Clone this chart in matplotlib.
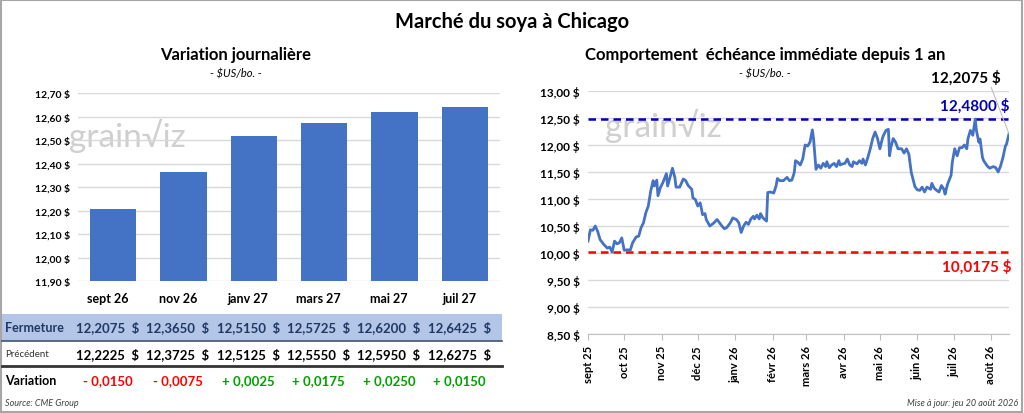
import matplotlib
matplotlib.use("Agg")
from matplotlib import pyplot as plt
from matplotlib.patches import Rectangle
import pandas as pd
import numpy as np

plt.rcParams['font.family'] = ['Lato', 'DejaVu Sans']

# --- données : variation journalière ---
echeances = ["sept 26", "nov 26", "janv 27", "mars 27", "mai 27", "juil 27"]
fermeture = [12.2075, 12.3650, 12.5150, 12.5725, 12.6200, 12.6425]
precedent = [12.2225, 12.3725, 12.5125, 12.5550, 12.5950, 12.6275]

# --- données : échéance immédiate depuis 1 an (jours depuis le 1er sept 2025) ---
jours = [0, 2, 4, 6, 8, 10, 13, 16, 18, 20, 22, 24, 26, 28, 30, 33, 35, 37, 40, 42,
         44, 46, 48, 50, 52, 54, 55, 57, 58, 60, 62, 65, 66, 68, 70, 72, 73, 76, 79, 81,
         83, 86, 87, 89, 91, 93, 95, 97, 98, 101, 104, 107, 109, 111, 113, 115, 118, 120, 123, 125,
         127, 129, 131, 133, 135, 137, 138, 140, 142, 143, 145, 148, 149, 151, 154, 156, 157, 159, 162, 165,
         167, 169, 171, 172, 174, 176, 178, 180, 182, 184, 185, 186, 187, 189, 191, 193, 195, 197, 198, 200,
         202, 204, 206, 208, 209, 211, 213, 215, 217, 219, 220, 223, 225, 227, 228, 230, 232, 234, 236, 238,
         240, 242, 244, 245, 247, 249, 250, 251, 253, 255, 257, 260, 262, 264, 266, 268, 271, 273, 275, 277,
         279, 281, 284, 285, 287, 289, 291, 293, 295, 296, 298, 301, 302, 304, 306, 308, 310, 312, 314, 315,
         317, 319, 321, 322, 324, 325, 327, 328, 331, 333, 336, 338, 340, 342, 344, 346, 347, 349]
prix = [10.22, 10.43, 10.42, 10.50, 10.40, 10.25, 10.16, 10.09, 10.11, 10.0175, 10.22, 10.17, 10.19, 10.28, 10.05, 10.06, 10.05, 10.19, 10.30, 10.31,
        10.47, 10.56, 10.75, 10.87, 11.15, 11.34, 11.24, 11.35, 11.06, 11.21, 11.30, 11.47, 11.24, 11.40, 11.57, 11.40, 11.22, 11.22, 11.37, 11.34,
        11.25, 11.18, 11.02, 10.99, 10.87, 10.93, 10.71, 10.73, 10.62, 10.50, 10.55, 10.62, 10.56, 10.50, 10.45, 10.47, 10.56, 10.65, 10.62, 10.56,
        10.38, 10.50, 10.57, 10.53, 10.63, 10.68, 10.63, 10.70, 10.63, 10.73, 10.65, 10.59, 11.12, 11.13, 11.11, 11.25, 11.38, 11.34, 11.34, 11.40,
        11.34, 11.35, 11.49, 11.71, 11.68, 11.63, 11.74, 12.00, 11.98, 12.05, 12.16, 12.28, 12.11, 11.55, 11.63, 11.57, 11.66, 11.60, 11.69, 11.58,
        11.63, 11.66, 11.60, 11.71, 11.63, 11.65, 11.66, 11.74, 11.63, 11.60, 11.69, 11.65, 11.71, 11.66, 11.74, 11.63, 11.77, 11.93, 12.12, 12.24,
        12.12, 11.93, 12.12, 12.18, 12.27, 12.29, 11.80, 11.95, 12.12, 12.05, 11.93, 11.93, 11.85, 11.93, 11.83, 11.49, 11.23, 11.17, 11.16, 11.22,
        11.13, 11.22, 11.18, 11.29, 11.20, 11.16, 11.13, 11.25, 11.18, 11.09, 11.27, 11.44, 11.68, 11.93, 11.80, 11.95, 11.95, 12.00, 11.93, 12.12,
        12.27, 12.18, 12.48, 12.27, 12.05, 12.11, 11.77, 11.71, 11.61, 11.57, 11.60, 11.58, 11.50, 11.61, 11.77, 11.98, 12.02, 12.2075]
haut_1an = 12.48
bas_1an = 10.0175
mois_ticks = ["sept 25", "oct 25", "nov 25", "déc 25", "janv 26", "févr 26", "mars 26",
              "avr 26", "mai 26", "juin 26", "juil 26", "août 26"]

BLEU = "#4472c4"
GRILLE = "#d9d9d9"
W, H = 1024, 414


def fr(v, d=4):
    return ("{0:.%df}" % d).format(v).replace(".", ",")


def px(x, y):
    # pixel -> fraction de figure
    return x / W, 1 - y / H


fig = plt.figure(figsize=(W / 100, H / 100), dpi=100)
fig.patches.append(Rectangle((0.001, 0.002), 0.997, 0.995, transform=fig.transFigure,
                             fill=False, edgecolor="#a6a6a6", linewidth=1.5))

fig.text(*px(512, 22), "Marché du soya à Chicago", ha="center", va="center",
         fontsize=14.5, fontweight="bold")

# ---------------- graphique de gauche ----------------
fig.text(*px(236, 55), "Variation journalière", ha="center", va="center", fontsize=12, fontweight="bold")
fig.text(*px(236, 74), "- $US/bo. -", ha="center", va="center", fontsize=8, style="italic")

l, b = px(78, 282)
ax1 = fig.add_axes([l, b, (500 - 78) / W, (282 - 94) / H])
x = np.arange(len(echeances))
ax1.bar(x, fermeture, width=0.66, color=BLEU, zorder=3)
ax1.set_ylim(11.9, 12.7)
ax1.set_xlim(-0.5, len(echeances) - 0.5)
ax1.set_yticks(np.arange(11.9, 12.71, 0.1))
ax1.set_yticklabels([fr(v, 2) + " $" for v in np.arange(11.9, 12.71, 0.1)], fontsize=7.5, fontweight="bold")
ax1.yaxis.grid(True, color=GRILLE, linewidth=1, zorder=0)
ax1.set_xticks(x - 0.08)
ax1.set_xticklabels(echeances, fontsize=9, fontweight="bold")
ax1.tick_params(length=0, pad=8)
ax1.tick_params(axis="y", pad=6)
for s in ax1.spines.values():
    s.set_visible(False)
ax1.text(0.2, 12.52, "grain\u221Aiz", fontsize=24, color="#cfcfcf", ha="center", va="center", zorder=1)

# tableau
fig.patches.append(Rectangle(px(2, 342), 500 / W, 27 / H, transform=fig.transFigure,
                             facecolor="#b4c6e7", edgecolor="none", zorder=-1))
fig.add_artist(plt.Line2D([2 / W, 502 / W], [1 - 342 / H] * 2, color="#44546a", linewidth=1.2))
fig.add_artist(plt.Line2D([2 / W, 502 / W], [1 - 367 / H] * 2, color="#333333", linewidth=2))

trans = matplotlib.transforms.blended_transform_factory(ax1.transData, fig.transFigure)
fig.text(*px(5, 328), "Fermeture", fontsize=9, fontweight="bold", color="#1f3864", va="center")
fig.text(*px(5, 355), "Précédent", fontsize=7, color="#333333", va="center")
fig.text(*px(5, 381), "Variation", fontsize=9, fontweight="bold", va="center")
for i in range(len(echeances)):
    ax1.text(i - 0.08, 1 - 328 / H, fr(fermeture[i]) + "  $", transform=trans, ha="center", va="center",
             fontsize=9.5, fontweight="bold", color="#1f3864")
    ax1.text(i - 0.08, 1 - 355 / H, fr(precedent[i]) + "  $", transform=trans, ha="center", va="center",
             fontsize=9.5, fontweight="bold")
    var = fermeture[i] - precedent[i]
    signe = "+ " if var >= 0 else "- "
    ax1.text(i - 0.08, 1 - 381 / H, signe + fr(abs(var)), transform=trans, ha="center", va="center",
             fontsize=9.5, fontweight="bold", color="#00a000" if var >= 0 else "#ff0000")
fig.text(*px(5, 404), "Source: CME Group", fontsize=6.5, style="italic", color="#404040", va="center")

# ---------------- graphique de droite ----------------
fig.text(*px(765, 55), "Comportement  échéance immédiate depuis 1 an", ha="center", va="center",
         fontsize=12, fontweight="bold")
fig.text(*px(765, 74), "- $US/bo. -", ha="center", va="center", fontsize=8, style="italic")

l, b = px(588, 335)
ax2 = fig.add_axes([l, b, (1009 - 588) / W, (335 - 92) / H])
debut = pd.Timestamp("2025-09-01")
dates = debut + pd.to_timedelta(jours, unit="D")
ax2.plot(dates, prix, color=BLEU, linewidth=2, zorder=3)
ax2.axhline(haut_1an, color="#0000c0", linestyle=(0, (3, 2)), linewidth=1.8, zorder=2)
ax2.axhline(bas_1an, color="#ff0000", linestyle=(0, (3, 2)), linewidth=1.8, zorder=2)
ax2.set_ylim(8.5, 13.0)
ax2.set_xlim(dates[0], dates[-1])
yt = np.arange(8.5, 13.01, 0.5)
ax2.set_yticks(yt)
ax2.set_yticklabels([fr(v, 2) + " $" for v in yt], fontsize=8.5, fontweight="bold")
ax2.yaxis.grid(True, color=GRILLE, linewidth=1, zorder=0)
mt = pd.date_range("2025-09-01", periods=len(mois_ticks), freq="MS")
ax2.set_xticks(mt)
ax2.set_xticklabels(mois_ticks, rotation=90, fontsize=8, fontweight="bold")
ax2.tick_params(axis="y", length=0, pad=6)
ax2.tick_params(axis="x", length=4, color="#bfbfbf", pad=4)
for k in ["top", "right", "left"]:
    ax2.spines[k].set_visible(False)
ax2.spines["bottom"].set_color("#bfbfbf")
ax2.text(0.18, 0.86, "grain\u221Aiz", transform=ax2.transAxes, fontsize=24, color="#cfcfcf",
         ha="center", va="center", zorder=1)

ax2.text(1.0, haut_1an + 0.12, fr(haut_1an) + " $", transform=ax2.get_yaxis_transform(), ha="right",
         va="bottom", fontsize=11, fontweight="bold", color="#0000c0")
ax2.text(1.005, bas_1an - 0.12, fr(bas_1an) + " $", transform=ax2.get_yaxis_transform(), ha="right",
         va="top", fontsize=11, fontweight="bold", color="#ff0000")
ax2.annotate(fr(prix[-1]) + " $", xy=(dates[-1], prix[-1]), xytext=(0.98, 13.12),
             textcoords=ax2.get_yaxis_transform(), ha="right", va="bottom", fontsize=11,
             fontweight="bold", annotation_clip=False,
             arrowprops=dict(arrowstyle="-", color="#bfbfbf", linewidth=0.8, shrinkA=0, shrinkB=0,
                             relpos=(0.85, 0)))
fig.text(*px(1018, 404), "Mise à jour: jeu 20 août 2026", ha="right", va="center", fontsize=6.5,
         style="italic", color="#404040")

fig.savefig("out.png", dpi=100)
